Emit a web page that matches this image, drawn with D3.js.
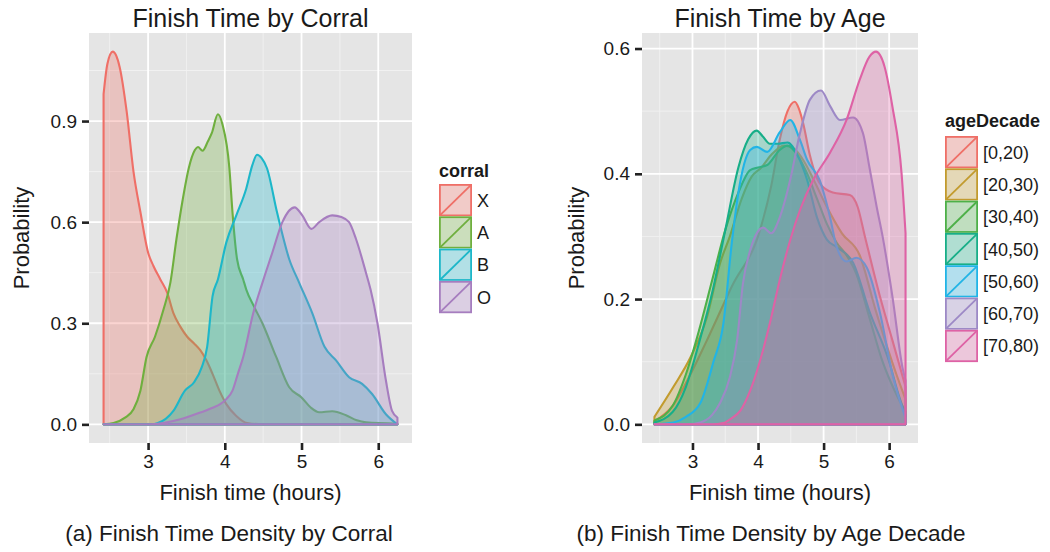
<!DOCTYPE html>
<html>
<head>
<meta charset="utf-8">
<script src="https://cdn.jsdelivr.net/npm/d3@7"></script>
<style>
  body { margin: 0; background: #fff; }
  svg text { font-family: "Liberation Sans", Arial, sans-serif; fill: #1a1a1a; }
</style>
</head>
<body>
<svg id="chart" width="1050" height="552"></svg>
<script>
// ---- data: (finish time in hours, density) pairs ----
const corralNames = ["X", "A", "B", "O"];
const corralColors = ["#EF6F67", "#6FAF3E", "#1DB7C9", "#A67DBF"];

const corralX = [[2.42,0.98],[2.47,1.07],[2.54,1.106],[2.63,1.06],[2.72,0.93],[2.81,0.75],[2.9,0.63],[3.0,0.51],[3.07,0.47],
  [3.16,0.43],[3.25,0.39],[3.33,0.33],[3.42,0.29],[3.51,0.26],[3.6,0.24],[3.68,0.22],[3.76,0.19],[3.84,0.15],[3.93,0.1],
  [4.02,0.06],[4.15,0.025],[4.29,0.004],[4.5,0],[6.25,0]];
const corralA = [[2.42,0],[2.55,0.004],[2.7,0.02],[2.81,0.045],[2.9,0.1],[2.98,0.2],[3.09,0.26],[3.2,0.34],[3.29,0.42],
  [3.37,0.55],[3.45,0.665],[3.53,0.76],[3.61,0.814],[3.65,0.823],[3.71,0.812],[3.78,0.84],[3.83,0.864],[3.91,0.92],
  [3.97,0.89],[4.06,0.76],[4.1,0.63],[4.16,0.49],[4.24,0.43],[4.28,0.4],[4.38,0.35],[4.49,0.3],[4.67,0.2],[4.84,0.11],
  [5.0,0.08],[5.12,0.05],[5.23,0.036],[5.4,0.039],[5.58,0.027],[5.72,0.012],[5.84,0.006],[6.25,0.002]];
const corralB = [[2.42,0],[3.05,0],[3.12,0.003],[3.33,0.04],[3.48,0.1],[3.6,0.125],[3.7,0.17],[3.77,0.23],[3.84,0.38],
  [3.91,0.43],[4.02,0.54],[4.15,0.62],[4.28,0.7],[4.36,0.77],[4.42,0.8],[4.48,0.79],[4.55,0.76],[4.68,0.63],[4.84,0.49],
  [4.97,0.42],[5.14,0.33],[5.3,0.23],[5.45,0.19],[5.62,0.14],[5.79,0.12],[5.92,0.09],[6.1,0.03],[6.25,0]];
const corralO = [[2.42,0],[3.0,0],[3.2,0.004],[3.42,0.015],[3.68,0.035],[3.85,0.05],[3.94,0.06],[4.02,0.075],[4.1,0.1],
  [4.17,0.15],[4.24,0.2],[4.37,0.33],[4.49,0.42],[4.62,0.51],[4.75,0.6],[4.91,0.644],[5.01,0.62],[5.13,0.58],[5.23,0.6],
  [5.4,0.62],[5.52,0.615],[5.62,0.6],[5.71,0.55],[5.84,0.45],[5.9,0.4],[5.99,0.3],[6.1,0.13],[6.18,0.04],[6.25,0.02]];
const corralSeries = [corralX, corralA, corralB, corralO];

const ageNames = ["[0,20)", "[20,30)", "[30,40)", "[40,50)", "[50,60)", "[60,70)", "[70,80)"];
const ageColors = ["#EF6F67", "#C29B2E", "#4DB048", "#17AE88", "#21B4E6", "#9D89C6", "#DE62A5"];

const age0020 = [[2.42,0.005],[2.7,0.03],[2.97,0.08],[3.22,0.134],[3.6,0.22],[4.03,0.31],[4.2,0.38],[4.33,0.454],
  [4.45,0.5],[4.56,0.515],[4.62,0.505],[4.69,0.48],[4.79,0.43],[4.94,0.385],[5.14,0.37],[5.4,0.366],[5.52,0.347],
  [5.63,0.3],[5.86,0.204],[6.05,0.134],[6.25,0.06]];
const age2030 = [[2.42,0.012],[2.71,0.06],[2.97,0.107],[3.22,0.171],[3.42,0.257],[3.57,0.3],[3.75,0.36],[3.9,0.395],
  [4.05,0.41],[4.2,0.43],[4.4,0.445],[4.55,0.44],[4.7,0.42],[4.85,0.39],[5.05,0.347],[5.28,0.305],[5.55,0.27],
  [5.8,0.18],[6.11,0.08],[6.25,0.04]];
const age3040 = [[2.42,0.006],[2.7,0.03],[2.9,0.08],[3.1,0.15],[3.3,0.23],[3.5,0.31],[3.7,0.37],[3.88,0.406],[4.0,0.41],
  [4.14,0.414],[4.33,0.438],[4.45,0.445],[4.6,0.43],[4.75,0.4],[4.9,0.36],[5.05,0.32],[5.2,0.29],[5.35,0.27],[5.5,0.24],
  [5.7,0.17],[5.9,0.1],[6.1,0.05],[6.25,0.02]];
const age4050 = [[2.42,0.003],[2.7,0.02],[2.9,0.06],[3.1,0.13],[3.3,0.21],[3.5,0.31],[3.7,0.41],[3.85,0.455],[3.98,0.469],
  [4.07,0.46],[4.18,0.448],[4.3,0.448],[4.45,0.45],[4.6,0.43],[4.75,0.39],[4.9,0.33],[5.05,0.295],[5.2,0.283],
  [5.45,0.258],[5.7,0.18],[6.0,0.1],[6.15,0.045],[6.25,0.015]];
const age5060 = [[2.42,0],[2.71,0.003],[2.9,0.012],[3.12,0.034],[3.32,0.1],[3.47,0.16],[3.6,0.29],[3.7,0.37],[3.88,0.438],
  [3.98,0.443],[4.14,0.435],[4.33,0.466],[4.49,0.486],[4.64,0.454],[4.75,0.422],[4.94,0.39],[5.1,0.33],[5.2,0.283],
  [5.35,0.26],[5.5,0.266],[5.66,0.25],[5.86,0.178],[6.05,0.08],[6.25,0.01]];
const age6070 = [[2.42,0],[2.9,0],[3.12,0.003],[3.3,0.015],[3.42,0.034],[3.57,0.075],[3.68,0.134],[3.77,0.225],
  [3.88,0.278],[3.98,0.305],[4.08,0.314],[4.2,0.305],[4.33,0.33],[4.49,0.39],[4.64,0.465],[4.79,0.518],[4.96,0.533],
  [5.1,0.508],[5.25,0.486],[5.45,0.49],[5.6,0.465],[5.7,0.41],[5.81,0.347],[5.9,0.3],[6.05,0.204],[6.21,0.087],[6.25,0.07]];
const age7080 = [[2.42,0],[3.3,0],[3.47,0.002],[3.6,0.01],[3.73,0.022],[3.88,0.054],[4.08,0.12],[4.2,0.17],[4.33,0.23],
  [4.49,0.294],[4.65,0.345],[4.84,0.39],[5.1,0.434],[5.35,0.486],[5.55,0.55],[5.7,0.587],[5.8,0.595],[5.93,0.571],
  [6.05,0.507],[6.19,0.4],[6.25,0.305]];
const ageSeries = [age0020, age2030, age3040, age4050, age5060, age6070, age7080];

const xTicks = [3, 4, 5, 6];
const xMinor = [2.5, 3.5, 4.5, 5.5];
const xDomain = [2.23, 6.44];
const corralYTicks = [0, 0.3, 0.6, 0.9];
const corralYMinor = [0.15, 0.45, 0.75, 1.05];
const ageYTicks = [0, 0.2, 0.4, 0.6];
const ageYMinor = [0.1, 0.3, 0.5];

const svg = d3.select("#chart");

function drawPanel(p) {
  const x = d3.scaleLinear().domain(xDomain).range([p.left, p.right]);
  const y = d3.scaleLinear().domain(p.yDomain).range([p.bottom, p.top]);
  const g = svg.append("g");

  g.append("rect")
    .attr("x", p.left).attr("y", p.top)
    .attr("width", p.right - p.left).attr("height", p.bottom - p.top)
    .attr("fill", "#E5E5E5");

  // minor grid
  g.selectAll(".vminor").data(xMinor).enter().append("line")
    .attr("x1", d => x(d)).attr("x2", d => x(d))
    .attr("y1", p.top).attr("y2", p.bottom)
    .attr("stroke", "#F2F2F2").attr("stroke-width", 0.9);
  g.selectAll(".hminor").data(p.yMinor).enter().append("line")
    .attr("x1", p.left).attr("x2", p.right)
    .attr("y1", d => y(d)).attr("y2", d => y(d))
    .attr("stroke", "#F2F2F2").attr("stroke-width", 0.9);
  // major grid
  g.selectAll(".vmajor").data(xTicks).enter().append("line")
    .attr("x1", d => x(d)).attr("x2", d => x(d))
    .attr("y1", p.top).attr("y2", p.bottom)
    .attr("stroke", "#fff").attr("stroke-width", 1.8);
  g.selectAll(".hmajor").data(p.yTicks).enter().append("line")
    .attr("x1", p.left).attr("x2", p.right)
    .attr("y1", d => y(d)).attr("y2", d => y(d))
    .attr("stroke", "#fff").attr("stroke-width", 1.8);

  const area = d3.area()
    .x(d => x(d[0]))
    .y0(y(0))
    .y1(d => y(d[1]))
    .curve(d3.curveMonotoneX);

  g.selectAll(".dens").data(p.series).enter().append("path")
    .attr("d", area)
    .attr("fill", (d, i) => p.colors[i])
    .attr("fill-opacity", 0.3)
    .attr("stroke", (d, i) => p.colors[i])
    .attr("stroke-width", 2.1)
    .attr("stroke-linejoin", "round");

  // axes
  const ax = g.append("g").attr("transform", `translate(0,${p.bottom})`)
    .call(d3.axisBottom(x).tickValues(xTicks).tickSize(7).tickPadding(5).tickFormat(d3.format("d")));
  const ay = g.append("g").attr("transform", `translate(${p.left},0)`)
    .call(d3.axisLeft(y).tickValues(p.yTicks).tickSize(7).tickPadding(5).tickFormat(d3.format(".1f")));
  [ax, ay].forEach(a => {
    a.select(".domain").remove();
    a.selectAll(".tick line").attr("stroke", "#222").attr("stroke-width", 2.6);
    a.selectAll(".tick text").attr("font-size", 19).attr("font-family", "Liberation Sans, Arial, sans-serif").attr("fill", "#1e1e1e");
  });

  const cx = (p.left + p.right) / 2;
  svg.append("text").attr("x", cx).attr("y", 27).attr("text-anchor", "middle")
    .attr("font-size", 25).text(p.title);
  svg.append("text").attr("x", cx).attr("y", 500).attr("text-anchor", "middle")
    .attr("font-size", 22).text("Finish time (hours)");
  svg.append("text").attr("transform", `translate(${p.ylabX},${(p.top + p.bottom) / 2}) rotate(-90)`)
    .attr("text-anchor", "middle").attr("font-size", 22).text("Probability");
  svg.append("text").attr("x", p.captionX).attr("y", 541).attr("text-anchor", "middle")
    .attr("font-size", 22.5).text(p.caption);
}

function drawLegend(l) {
  const g = svg.append("g");
  g.append("text").attr("x", l.x).attr("y", l.titleY)
    .attr("font-size", 18).attr("font-weight", "bold").text(l.title);
  const keyW = 33, keyH = 32.3;
  const items = g.selectAll(".key").data(l.names).enter().append("g")
    .attr("transform", (d, i) => `translate(${l.x},${l.keyY + i * keyH})`);
  items.append("rect").attr("width", keyW).attr("height", keyH).attr("fill", "#F2F2F2");
  items.append("rect")
    .attr("x", 0.9).attr("y", 0.9).attr("width", keyW - 1.8).attr("height", keyH - 1.8)
    .attr("fill", (d, i) => l.colors[i]).attr("fill-opacity", 0.3)
    .attr("stroke", (d, i) => l.colors[i]).attr("stroke-width", 1.8);
  items.append("line")
    .attr("x1", 0.9).attr("y1", keyH - 0.9).attr("x2", keyW - 0.9).attr("y2", 0.9)
    .attr("stroke", (d, i) => l.colors[i]).attr("stroke-width", 1.8);
  items.append("text").attr("x", keyW + 5).attr("y", keyH / 2).attr("dy", "0.36em")
    .attr("font-size", 18).text(d => d);
}

drawPanel({
  left: 89, right: 412, top: 33, bottom: 443,
  yDomain: [-0.0553, 1.1613], yTicks: corralYTicks, yMinor: corralYMinor,
  series: corralSeries, colors: corralColors,
  title: "Finish Time by Corral", ylabX: 29, captionX: 229,
  caption: "(a) Finish Time Density by Corral"
});
drawPanel({
  left: 642, right: 918, top: 33, bottom: 443,
  yDomain: [-0.0298, 0.6248], yTicks: ageYTicks, yMinor: ageYMinor,
  series: ageSeries, colors: ageColors,
  title: "Finish Time by Age", ylabX: 584, captionX: 771,
  caption: "(b) Finish Time Density by Age Decade"
});

drawLegend({ x: 439, titleY: 177, keyY: 184, title: "corral", names: corralNames, colors: corralColors });
drawLegend({ x: 945, titleY: 127, keyY: 136, title: "ageDecade", names: ageNames, colors: ageColors });
</script>
</body>
</html>
